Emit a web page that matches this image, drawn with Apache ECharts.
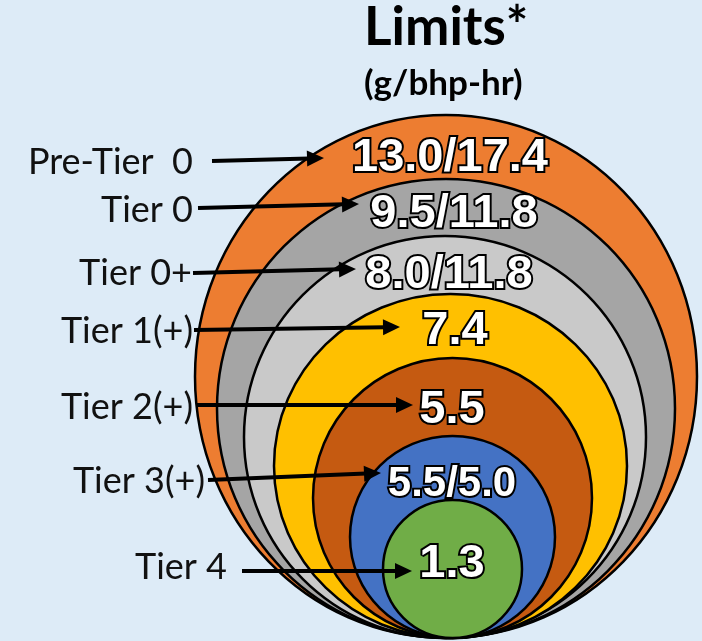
<!DOCTYPE html>
<html>
<head>
<meta charset="utf-8">
<title>Limits by tier</title>
<script src="https://cdn.jsdelivr.net/npm/echarts@6/dist/echarts.min.js"></script>
<style>
  html, body { margin: 0; padding: 0; background: #DDEBF7; }
  #main { width: 702px; height: 641px; }
</style>
</head>
<body>
<div id="main"></div>
<script>
// data
var tiers = ['Pre-Tier  0', 'Tier 0', 'Tier 0+', 'Tier 1(+)', 'Tier 2(+)', 'Tier 3(+)', 'Tier 4'];
var limits = ['13.0/17.4', '9.5/11.8', '8.0/11.8', '7.4', '5.5', '5.5/5.0', '1.3'];
var ringColors = ['#ED7D31', '#A5A5A5', '#C9C9C9', '#FFC000', '#C55A11', '#4472C4', '#70AD47'];

// layout, in axis units (1 unit = 1 px of the 702x641 picture)
var baseY = 638;                       // all rings touch here
var ringCx = [446, 446, 445, 450.5, 452.5, 452.5, 452.5];
var ringRx = [251, 229, 201, 176.5, 139.5, 102.5, 69.5];
var ringRy = [261.5, 229.5, 201, 172, 140, 101, 69];
var valuePos = [[450, 158], [454, 214], [449, 275], [455, 331], [452, 410], [452, 484], [452, 564]];
var valueSize = [47, 47, 47, 47, 47, 42, 47];
var arrowFrom = [[212, 161], [198, 208], [193, 273], [194, 330], [197, 405], [208, 480], [242, 571]];
var arrowTo = [[324, 158], [359, 204], [356, 269], [400, 327], [413, 405], [381, 473], [412, 571]];
var namePos = [[193, 162], [193, 210], [192, 273], [193, 331], [193, 407], [205, 481], [227, 567]];

var ringData = limits.map(function (v, i) {
    return { name: v, value: [ringCx[i], baseY - ringRy[i], ringRx[i], ringRy[i]] };
});
var arrowData = tiers.map(function (t, i) {
    return { name: t, value: [arrowFrom[i][0], arrowFrom[i][1], arrowTo[i][0], arrowTo[i][1], namePos[i][0], namePos[i][1]] };
});

function renderRing(params, api) {
    var i = params.dataIndex;
    var c = api.coord([api.value(0), api.value(1)]);
    var s = api.size([api.value(2), api.value(3)]);
    var p = api.coord(valuePos[i]);
    var font = {
        fontSize: valueSize[i], fontWeight: 'bold',
        fontFamily: '"Liberation Sans", Arial, sans-serif',
        align: 'center', verticalAlign: 'middle'
    };
    return {
        type: 'group',
        children: [{
            type: 'ellipse',
            shape: { cx: c[0], cy: c[1], rx: s[0], ry: s[1] },
            style: { fill: ringColors[i], stroke: '#000', lineWidth: 2.5 }
        }, {
            // dark outline under the white figures
            type: 'text', x: p[0], y: p[1], z2: 100,
            style: Object.assign({ text: limits[i], fill: '#000', stroke: '#000', lineWidth: 4 }, font)
        }, {
            type: 'text', x: p[0], y: p[1], z2: 101,
            style: Object.assign({ text: limits[i], fill: '#fff' }, font)
        }]
    };
}

function renderArrow(params, api) {
    var i = params.dataIndex;
    var a = api.coord([api.value(0), api.value(1)]);
    var b = api.coord([api.value(2), api.value(3)]);
    var n = api.coord([api.value(4), api.value(5)]);
    var dx = b[0] - a[0], dy = b[1] - a[1];
    var len = Math.sqrt(dx * dx + dy * dy);
    var ux = dx / len, uy = dy / len;
    var headLen = 17, headW = 8;
    var bx = b[0] - ux * headLen, by = b[1] - uy * headLen;
    return {
        type: 'group',
        children: [{
            type: 'line', z2: 200,
            shape: { x1: a[0], y1: a[1], x2: bx + ux * 2, y2: by + uy * 2 },
            style: { stroke: '#000', lineWidth: 4 }
        }, {
            type: 'polygon', z2: 200,
            shape: { points: [[b[0], b[1]], [bx - uy * headW, by + ux * headW], [bx + uy * headW, by - ux * headW]] },
            style: { fill: '#000' }
        }, {
            type: 'text', x: n[0], y: n[1], z2: 200,
            style: {
                text: tiers[i], fill: '#111', fontSize: 36,
                fontFamily: 'Lato, "Open Sans", sans-serif',
                align: 'right', verticalAlign: 'middle'
            }
        }]
    };
}

var myChart = echarts.init(document.getElementById('main'));
var option = {
    backgroundColor: '#DDEBF7',
    animation: false,
    title: {
        text: 'Limits*',
        subtext: '(g/bhp-hr)',
        left: 364,
        top: 2,
        padding: 0,
        itemGap: 12,
        textStyle: { fontFamily: 'Lato, sans-serif', fontWeight: 'bold', fontSize: 53, lineHeight: 52, color: '#000' },
        subtextStyle: { fontFamily: 'Lato, sans-serif', fontWeight: 'bold', fontSize: 35, lineHeight: 34, color: '#000' }
    },
    grid: { left: 0, right: 0, top: 0, bottom: 0 },
    xAxis: { type: 'value', min: 0, max: 702, show: false },
    yAxis: { type: 'value', min: 0, max: 641, inverse: true, show: false },
    series: [{
        type: 'custom',
        name: 'rings',
        renderItem: renderRing,
        data: ringData,
        clip: false
    }, {
        type: 'custom',
        name: 'arrows',
        renderItem: renderArrow,
        data: arrowData,
        clip: false,
        z: 3
    }]
};
myChart.setOption(option);
window.myChart = myChart;
</script>
</body>
</html>
